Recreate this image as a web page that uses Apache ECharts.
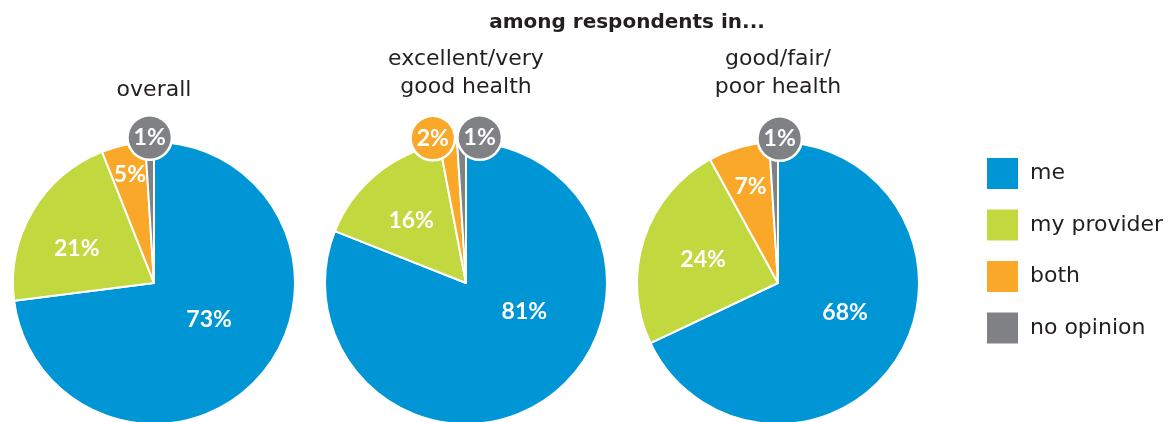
<!DOCTYPE html>
<html>
<head>
<meta charset="utf-8">
<style>
  html, body { margin: 0; padding: 0; background: #fff; }
  #chart { width: 1172px; height: 422px; }
</style>
<script src="https://cdn.jsdelivr.net/npm/echarts@6/dist/echarts.min.js"></script>
</head>
<body>
<div id="chart"></div>
<script>
// Who is responsible: share of answers per respondent group (percent)
const categories = ['me', 'my provider', 'both', 'no opinion'];
const overall = [73, 21, 5, 1];
const excellentVeryGood = [81, 16, 2, 1];
const goodFairPoor = [68, 24, 7, 1];

const groupTitles = [['overall'], ['excellent/very', 'good health'], ['good/fair/', 'poor health']];
const headline = 'among respondents in...';

const colors = ['#0096D6', '#C1D83F', '#F9A829', '#808185'];
const TEXT_FONT = '"DejaVu Sans", sans-serif';
const LABEL_FONT = 'Lato, "Noto Sans", sans-serif';
const INK = '#231F20';

// Pie placement and per-slice label nudges (pixels)
const pieCenters = [[154, 283], [466, 283], [778, 283]];
const pieRadius = 141;
const labelNudges = [
  [[0, -12], [-14, 3], [-8, -37], [-2, -72]],
  [[17, -32], [-8, -6], [-24, -72], [16, -72]],
  [[5, -10], [-5, -1], [-7, -26], [4, -71]]
];
// slices whose value is shown in a round badge above the pie
const badgeSlices = [[3], [2, 3], [3]];

function buildSeries(values, idx) {
  return {
    type: 'pie',
    center: pieCenters[idx],
    radius: pieRadius,
    startAngle: 90,
    clockwise: true,
    avoidLabelOverlap: false,
    silent: true,
    itemStyle: { borderColor: '#fff', borderWidth: 2 },
    labelLine: { show: false },
    data: values.map((v, i) => {
      const badge = badgeSlices[idx].includes(i);
      const label = {
        show: true,
        position: 'inside',
        formatter: '{c}%',
        color: '#fff',
        fontFamily: LABEL_FONT,
        fontWeight: 'bold',
        fontSize: 23,
        offset: labelNudges[idx][i]
      };
      if (badge) {
        Object.assign(label, {
          backgroundColor: colors[i],
          borderColor: '#fff',
          borderWidth: 2.5,
          borderRadius: 22,
          width: 42,
          height: 42,
          lineHeight: 42,
          align: 'center',
          verticalAlign: 'middle',
          padding: 0
        });
      }
      return {
        name: categories[i],
        value: v,
        itemStyle: { color: colors[i] },
        label: label
      };
    })
  };
}

const titleText = [];
titleText.push({
  type: 'text', x: 627, y: 22.5,
  style: { text: headline, font: 'bold 20px ' + TEXT_FONT, fill: INK, textAlign: 'center', textVerticalAlign: 'middle' }
});
groupTitles.forEach((lines, idx) => {
  const cx = pieCenters[idx][0];
  const baseY = lines.length === 1 ? 90.5 : 59;
  lines.forEach((line, j) => {
    titleText.push({
      type: 'text', x: cx, y: baseY + j * 28.5,
      style: { text: line, font: '22px ' + TEXT_FONT, fill: INK, textAlign: 'center', textVerticalAlign: 'middle' }
    });
  });
});

const chart = echarts.init(document.getElementById('chart'), null, { renderer: 'canvas' });
chart.setOption({
  animation: false,
  color: colors,
  legend: {
    orient: 'vertical',
    left: 985,
    top: 156,
    padding: 0,
    icon: 'rect',
    itemWidth: 33,
    itemHeight: 33,
    itemGap: 16.5,
    selectedMode: false,
    data: categories,
    textStyle: { fontFamily: TEXT_FONT, fontSize: 22, color: INK, padding: [0, 0, 0, 6] }
  },
  graphic: titleText,
  series: [overall, excellentVeryGood, goodFairPoor].map(buildSeries)
});
</script>
</body>
</html>
